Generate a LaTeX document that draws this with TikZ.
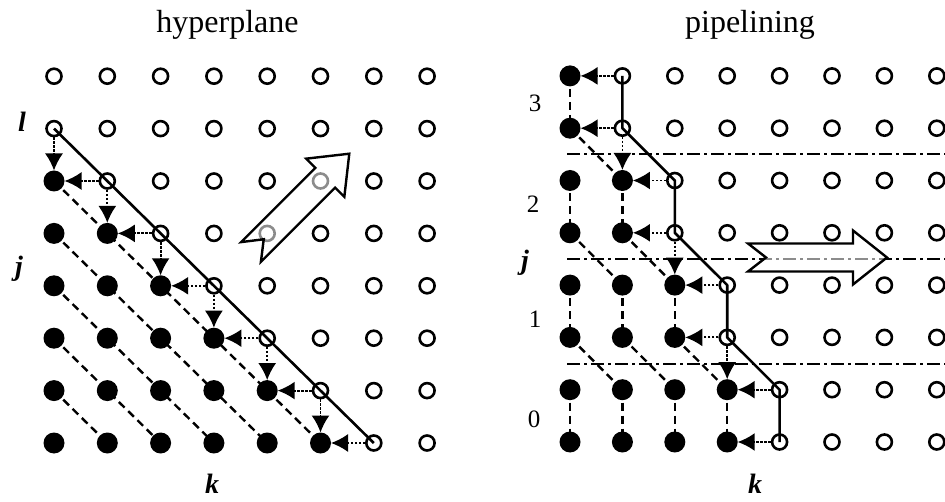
\documentclass[tikz,border=0pt]{standalone}
\usepackage{fontspec}
\setmainfont{Liberation Serif}
\usetikzlibrary{arrows.meta,calc}

\newcommand{\panelfont}{\fontsize{32}{36}\selectfont}
\newcommand{\idxfont}{\fontsize{28}{32}\selectfont\bfseries\itshape}
\newcommand{\stagefont}{\fontsize{25}{29}\selectfont}

\tikzset{
  solidpt/.style={circle,fill=black,minimum size=21pt,inner sep=0pt,outer sep=0pt},
  hollowpt/.style={circle,draw=black,line width=2.6pt,minimum size=15pt,inner sep=0pt},
  depline/.style={line width=2.4pt,dash pattern=on 8pt off 5pt},
  wavefront/.style={line width=2.6pt,line join=round},
  depflow/.style={line width=1.8pt,dash pattern=on 2.5pt off 1.5pt,-{Latex[length=17pt,width=18pt]}},
  chainline/.style={line width=2pt,dash pattern=on 13pt off 4pt on 3pt off 4pt},
  bigarrow/.style={draw,line width=2.4pt,fill=white,fill opacity=0.55,line join=miter},
}

\newcommand{\blockarrow}[2]{%
  \draw[bigarrow,shift={#1},rotate=#2] (0,14) -- (105,14) -- (105,27) -- (139,0)
    -- (105,-27) -- (105,-14) -- (0,-14) -- (18,0) -- cycle;}

\begin{document}
\begin{tikzpicture}[%
      x=1pt,y=1pt,
      ]
      \clip (0,0) rectangle (945,501);

      % hyperplane grid
      \begin{scope}[shift={(54pt,58pt)},x=53.3pt,y=52.4pt]
      \foreach \i in {0,...,7}
        \foreach \j in {0,...,7} {
          \pgfmathtruncatemacro{\s}{\i+\j}
          \ifnum\s<6
            \node[solidpt] (L-\i-\j) at (\i,\j) {};
          \else
            \node[hollowpt] (L-\i-\j) at (\i,\j) {};
          \fi
        }
      \end{scope}

      \foreach \c in {1,...,5}
        \draw[depline] (L-0-\c.center) -- (L-\c-0.center);
      \draw[wavefront] (L-0-6.center) -- (L-6-0.center);
      \foreach \i in {1,...,6} {
        \pgfmathtruncatemacro{\j}{6-\i}
        \pgfmathtruncatemacro{\p}{\i-1}
        \draw[depflow] (L-\i-\j) -- (L-\p-\j);
      }
      \foreach \i in {0,...,5} {
        \pgfmathtruncatemacro{\j}{6-\i}
        \pgfmathtruncatemacro{\q}{5-\i}
        \draw[depflow] (L-\i-\j) -- (L-\i-\q);
      }
      \blockarrow{(251,249)}{45}

      % pipelining grid
      \begin{scope}[shift={(570pt,59pt)},x=52.4pt,y=52.3pt]
      \foreach \i in {0,...,7}
        \foreach \j in {0,...,7} {
          \pgfmathtruncatemacro{\h}{4-floor(\j/2)}
          \ifnum\i<\h
            \node[solidpt] (R-\i-\j) at (\i,\j) {};
          \else
            \node[hollowpt] (R-\i-\j) at (\i,\j) {};
          \fi
        }
      \end{scope}

      \foreach \a/\b in {6/5,4/3,2/1}
        \draw[chainline] ($(R-0-\a)!.5!(R-0-\b)+(-3,0)$) -- ++(378,0);
      \foreach \p/\n in {0/4,1/3,2/2,3/1} {
        \pgfmathtruncatemacro{\lo}{2*\p}
        \pgfmathtruncatemacro{\hi}{2*\p+1}
        \pgfmathtruncatemacro{\m}{\n-1}
        \foreach \i in {0,...,\m}
          \draw[depline] (R-\i-\hi.center) -- (R-\i-\lo.center);
      }
      \foreach \p/\n in {1/3,2/2,3/1} {
        \pgfmathtruncatemacro{\lo}{2*\p}
        \pgfmathtruncatemacro{\dn}{2*\p-1}
        \pgfmathtruncatemacro{\m}{\n-1}
        \foreach \i in {0,...,\m} {
          \pgfmathtruncatemacro{\nx}{\i+1}
          \draw[depline] (R-\i-\lo.center) -- (R-\nx-\dn.center);
        }
      }
      \draw[wavefront] (R-1-7.center) -- (R-1-6.center) -- (R-2-5.center)
        -- (R-2-4.center) -- (R-3-3.center) -- (R-3-2.center)
        -- (R-4-1.center) -- (R-4-0.center);
      \foreach \j in {0,...,7} {
        \pgfmathtruncatemacro{\h}{4-floor(\j/2)}
        \pgfmathtruncatemacro{\g}{\h-1}
        \draw[depflow] (R-\h-\j) -- (R-\g-\j);
      }
      \foreach \p in {1,2,3} {
        \pgfmathtruncatemacro{\c}{4-\p}
        \pgfmathtruncatemacro{\a}{2*\p}
        \pgfmathtruncatemacro{\b}{2*\p-1}
        \draw[depflow] (R-\c-\a) -- (R-\c-\b);
      }
      \blockarrow{(748,243.5)}{0}

      % labels
      \node[anchor=base,font=\panelfont] (hyp) at (227.5,468) {hyperplane};
      \node[anchor=base,font=\panelfont] (pipe) at (750,468) {pipelining};
      \node[anchor=base,font=\idxfont] (lab-l) at (22,369) {l};
      \node[anchor=base,font=\idxfont] (lab-jl) at (19,225) {j};
      \node[anchor=base,font=\idxfont] (lab-kl) at (212,8) {k};
      \node[anchor=base,font=\idxfont] (lab-jr) at (525,231) {j};
      \node[anchor=base,font=\idxfont] (lab-kr) at (755,8) {k};
      \node[anchor=base,font=\stagefont] (st3) at (535,389) {3};
      \node[anchor=base,font=\stagefont] (st2) at (533,288) {2};
      \node[anchor=base,font=\stagefont] (st1) at (535,173) {1};
      \node[anchor=base,font=\stagefont] (st0) at (534,74) {0};
      \end{tikzpicture}
\end{document}
